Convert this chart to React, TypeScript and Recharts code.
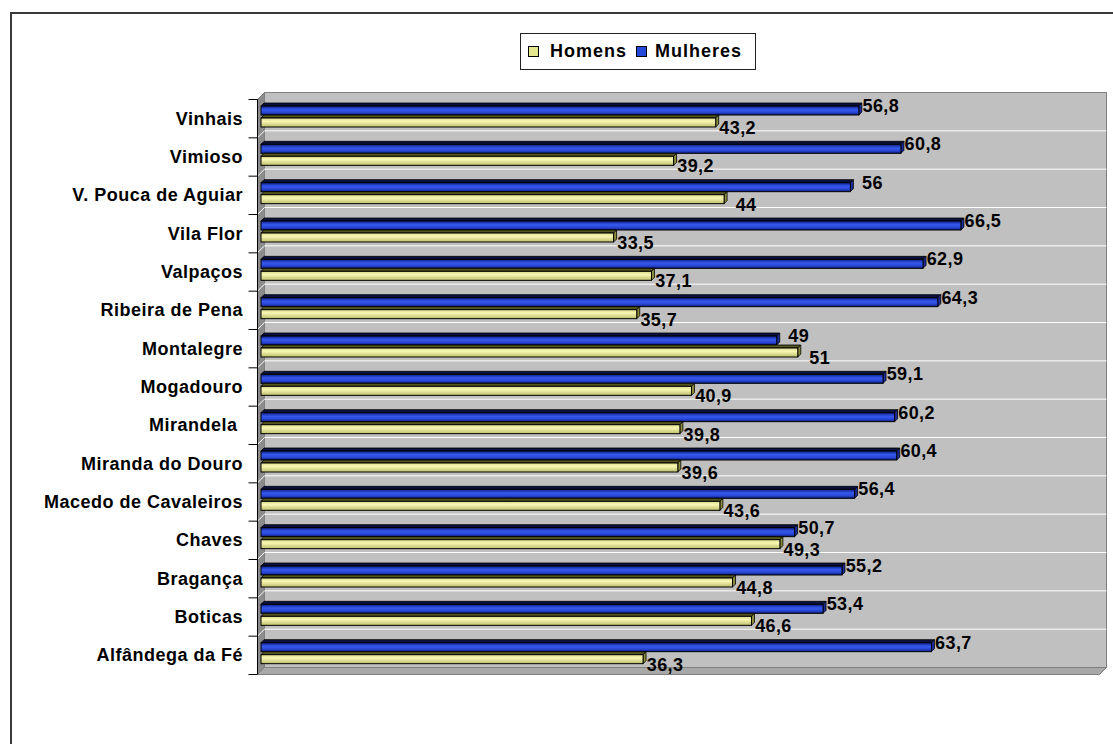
import { BarChart, Bar, XAxis, YAxis, LabelList } from "recharts";

// top to bottom, as in the picture
const categories = [
  "Vinhais",
  "Vimioso",
  "V. Pouca de Aguiar",
  "Vila Flor",
  "Valpaços",
  "Ribeira de Pena",
  "Montalegre",
  "Mogadouro",
  "Mirandela ",
  "Miranda do Douro",
  "Macedo de Cavaleiros",
  "Chaves",
  "Bragança",
  "Boticas",
  "Alfândega da Fé",
];
const homens = [43.2, 39.2, 44, 33.5, 37.1, 35.7, 51, 40.9, 39.8, 39.6, 43.6, 49.3, 44.8, 46.6, 36.3];
const mulheres = [56.8, 60.8, 56, 66.5, 62.9, 64.3, 49, 59.1, 60.2, 60.4, 56.4, 50.7, 55.2, 53.4, 63.7];
const legendOrder = ["Homens", "Mulheres"];
const xDomain = [0, 80];

const chartData = categories.map((name, i) => ({
  name,
  Homens: homens[i],
  Mulheres: mulheres[i],
}));

const W = 1113;
const H = 744;
const PLOT = { left: 261, top: 96, right: 1103, bottom: 671 };
const DEPTH = 3.5;
const FONT = '"Liberation Sans", Arial, sans-serif';

const PAL: Record<string, { grad: string; side: string; cap: string; swatch: string }> = {
  Homens: { grad: "url(#gradH)", side: "#8C8C3C", cap: "#55551E", swatch: "#E6E690" },
  Mulheres: { grad: "url(#gradM)", side: "#1A2C9C", cap: "#0A1240", swatch: "#2448D8" },
};

function Frame() {
  const n = categories.length;
  const band = (PLOT.bottom - PLOT.top) / n;
  const fl = PLOT.left - DEPTH, ft = PLOT.top + DEPTH, fb = PLOT.bottom + DEPTH, fr = PLOT.right - DEPTH;
  const bl = PLOT.left + DEPTH, bt = PLOT.top - DEPTH, bb = PLOT.bottom - DEPTH, br = PLOT.right + DEPTH;
  const rows = Array.from({ length: n + 1 }, (_, i) => i);
  return (
    <svg width={W} height={H} style={{ position: "absolute", left: 0, top: 0 }}>
      <defs>
        <linearGradient id="gradM" x1="0" y1="0" x2="0" y2="1">
          <stop offset="0%" stopColor="#0C1E88" />
          <stop offset="40%" stopColor="#3558EC" />
          <stop offset="70%" stopColor="#2A48D8" />
          <stop offset="100%" stopColor="#0C1C7C" />
        </linearGradient>
        <linearGradient id="gradH" x1="0" y1="0" x2="0" y2="1">
          <stop offset="0%" stopColor="#D4D488" />
          <stop offset="35%" stopColor="#F8F8B4" />
          <stop offset="100%" stopColor="#BEBE6C" />
        </linearGradient>
      </defs>
      <rect x={bl} y={bt} width={br - bl} height={bb - bt} fill="#C0C0C0" stroke="#808080" />
      <polygon points={`${fl},${ft} ${bl},${bt} ${bl},${bb} ${fl},${fb}`} fill="#8C8C8C" stroke="#808080" />
      <polygon points={`${fl},${fb} ${bl},${bb} ${br},${bb} ${fr},${fb}`} fill="#A8A8A8" stroke="#808080" />
      {rows.map((i) => {
        const yb = bt + i * band;
        const yf = ft + i * band;
        return (
          <g key={i}>
            {i > 0 && i < n && <line x1={bl} x2={br} y1={yb} y2={yb} stroke="#FFFFFF" />}
            {i > 0 && i < n && <line x1={fl} y1={yf} x2={bl} y2={yb} stroke="#FFFFFF" />}
            <line x1={fl - 9} x2={fl} y1={yf} y2={yf} stroke="#000" />
          </g>
        );
      })}
      <line x1={fl} x2={fl} y1={ft} y2={fb} stroke="#000" />
    </svg>
  );
}

function Bar3D(props: any) {
  const { x, y, width, height, series } = props;
  if (!width || width <= 0) return null;
  const p = PAL[series];
  const d = 3;
  return (
    <g>
      <polygon
        points={`${x},${y + d} ${x + d},${y} ${x + width + d},${y} ${x + width},${y + d}`}
        fill={p.cap}
        stroke="#000"
        strokeWidth={0.8}
      />
      <polygon
        points={`${x + width},${y + d} ${x + width + d},${y} ${x + width + d},${y + height - d} ${x + width},${y + height}`}
        fill={p.side}
        stroke="#000"
        strokeWidth={0.8}
      />
      <rect x={x} y={y + d} width={width} height={height - d} fill={p.grad} stroke="#000" strokeWidth={1} />
    </g>
  );
}

function ValueLabel(props: any) {
  const { value, dy } = props;
  const vb = props.viewBox ?? props;
  const { x, y, width, height } = vb;
  return (
    <text
      x={x + width + 22}
      y={y + height / 2 + dy}
      textAnchor="middle"
      dominantBaseline="central"
      fontFamily={FONT}
      fontWeight="bold"
      fontSize={18}
      letterSpacing={0.4}
      fill="#000"
    >
      {String(value).replace(".", ",")}
    </text>
  );
}

function CategoryTick(props: any) {
  const { y, payload } = props;
  return (
    <text
      x={PLOT.left - 18}
      y={y + DEPTH}
      textAnchor="end"
      dominantBaseline="central"
      fontFamily={FONT}
      fontWeight="bold"
      fontSize={18}
      letterSpacing={0.5}
      fill="#000"
      style={{ whiteSpace: "pre" }}
    >
      {payload.value}
    </text>
  );
}

function LegendBox() {
  return (
    <div
      style={{
        position: "absolute",
        left: 520,
        top: 33,
        width: 236,
        height: 37,
        boxSizing: "border-box",
        border: "1px solid #222",
        display: "flex",
        alignItems: "center",
        paddingLeft: 7,
        fontFamily: FONT,
        fontWeight: "bold",
        fontSize: 18,
        letterSpacing: 1,
        color: "#000",
      }}
    >
      {legendOrder.map((name, i) => (
        <span key={name} style={{ display: "flex", alignItems: "center" }}>
          <span
            style={{
              width: 9,
              height: 9,
              border: "1px solid #000",
              background: PAL[name].swatch,
              marginRight: i === 0 ? 11 : 8,
            }}
          />
          <span style={{ marginRight: i === 0 ? 9 : 0 }}>{name}</span>
        </span>
      ))}
    </div>
  );
}

export default function App() {
  return (
    <div
      style={{
        position: "absolute",
        left: 0,
        top: 0,
        width: W,
        height: H,
        overflow: "hidden",
        background: "#FFFFFF",
      }}
    >
      <div
        style={{
          position: "absolute",
          left: 10,
          top: 12,
          width: W,
          height: H,
          borderTop: "2px solid #3A3A3A",
          borderLeft: "2px solid #3A3A3A",
        }}
      />
      <Frame />
      <div style={{ position: "absolute", left: 0, top: 0 }}>
        <BarChart
          width={W}
          height={H}
          data={chartData}
          layout="vertical"
          barGap={0}
          margin={{ top: PLOT.top, right: W - PLOT.right, bottom: H - PLOT.bottom, left: 0 }}
        >
          <XAxis type="number" domain={xDomain} hide />
          <YAxis
            type="category"
            dataKey="name"
            width={PLOT.left}
            axisLine={false}
            tickLine={false}
            tickSize={0}
            interval={0}
            tick={<CategoryTick />}
          />
          <Bar
            dataKey="Mulheres"
            barSize={12}
            isAnimationActive={false}
            shape={(p: any) => <Bar3D {...p} series="Mulheres" />}
          >
            <LabelList dataKey="Mulheres" content={(p: any) => <ValueLabel {...p} dy={-3} />} />
          </Bar>
          <Bar
            dataKey="Homens"
            barSize={12}
            isAnimationActive={false}
            shape={(p: any) => <Bar3D {...p} series="Homens" />}
          >
            <LabelList dataKey="Homens" content={(p: any) => <ValueLabel {...p} dy={7} />} />
          </Bar>
        </BarChart>
      </div>
      <LegendBox />
    </div>
  );
}
